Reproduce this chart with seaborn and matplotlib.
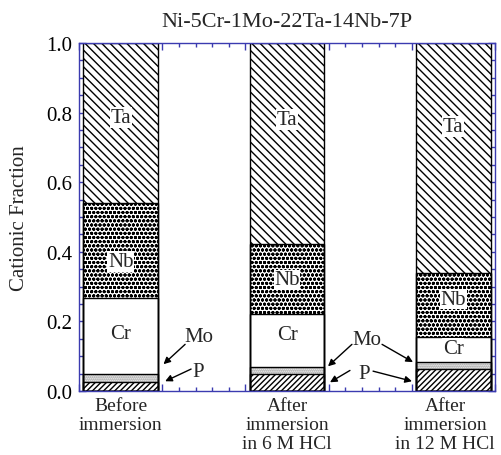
import numpy as np
import pandas as pd
import matplotlib
matplotlib.use("Agg")
import matplotlib.pyplot as plt
from matplotlib.ticker import MultipleLocator, FixedLocator, FormatStrFormatter
from matplotlib.transforms import blended_transform_factory
import seaborn as sns

# Cationic fractions of the passive film, stacked bottom to top
conditions = ["Before\nimmersion", "After\nimmersion\nin 6 M HCl", "After\nimmersion\nin 12 M HCl"]
elements = ["P", "Mo", "Cr", "Nb", "Ta"]
frac_P = [0.025, 0.048, 0.064]
frac_Mo = [0.025, 0.022, 0.019]
frac_Cr = [0.218, 0.150, 0.073]
frac_Nb = [0.271, 0.201, 0.184]
frac_Ta = [0.461, 0.579, 0.660]

# Positions of the in-bar labels
label_y_Ta = [0.786, 0.780, 0.760]
label_y_Nb = [0.372, 0.320, 0.264]
label_y_Cr = [0.166, 0.163, 0.123]

title = "Ni-5Cr-1Mo-22Ta-14Nb-7P"
ylabel = "Cationic Fraction"

sns.set_theme(style="ticks")
plt.rcParams["font.family"] = ["Liberation Serif", "DejaVu Serif"]
plt.rcParams["hatch.linewidth"] = 1.0

axis_blue = "#3b3bb0"
fs = 15

fractions = np.array([frac_P, frac_Mo, frac_Cr, frac_Nb, frac_Ta])
tops = np.cumsum(fractions, axis=0)

styles = {
    "P": dict(hatch="//////", hcolor="black"),
    "Mo": dict(hatch="........", hcolor="#8c8c8c"),
    "Cr": dict(hatch=None, hcolor="black"),
    "Nb": dict(hatch="oooo", hcolor="black"),
    "Ta": dict(hatch="\\\\\\\\", hcolor="black"),
}

fig = plt.figure(figsize=(5.01, 4.56), dpi=100)
ax = fig.add_axes([0.158, 0.1404, 0.830, 0.7631])

bar_width = 0.45

# Draw the cumulative tops from the largest down, so each layer covers the ones above it
for idx in range(len(elements) - 1, -1, -1):
    el = elements[idx]
    df = pd.DataFrame({"condition": conditions, "top": tops[idx]})
    n_before = len(ax.patches)
    sns.barplot(data=df, x="condition", y="top", order=conditions, color="white",
                width=bar_width, errorbar=None, ax=ax, saturation=1)
    for p in ax.patches[n_before:]:
        p.set_facecolor("white")
        p.set_edgecolor(styles[el]["hcolor"])
        p.set_linewidth(0)
        if styles[el]["hatch"]:
            p.set_hatch(styles[el]["hatch"])

# Black outlines of every segment
for idx in range(len(elements)):
    df = pd.DataFrame({"condition": conditions, "top": tops[idx]})
    n_before = len(ax.patches)
    sns.barplot(data=df, x="condition", y="top", order=conditions, color="white",
                width=bar_width, errorbar=None, ax=ax, saturation=1)
    for p in ax.patches[n_before:]:
        p.set_facecolor("none")
        p.set_edgecolor("black")
        p.set_linewidth(1.0)

# Element names inside the bars
for i in range(len(conditions)):
    for name, ys in (("Ta", label_y_Ta), ("Nb", label_y_Nb), ("Cr", label_y_Cr)):
        ax.text(i, ys[i], name, ha="center", va="center", fontsize=fs,
                bbox=dict(facecolor="white", edgecolor="none", pad=0.5))

# Mo and P call-outs
arrow_kw = dict(arrowstyle="-|>", color="black", lw=1.0, mutation_scale=10, shrinkA=0, shrinkB=0)
ax.text(0.470, 0.157, "Mo", ha="center", va="center", fontsize=fs)
ax.text(0.465, 0.057, "P", ha="center", va="center", fontsize=fs)
ax.annotate("", xy=(0.257, 0.077), xytext=(0.387, 0.134), arrowprops=arrow_kw)
ax.annotate("", xy=(0.267, 0.028), xytext=(0.423, 0.063), arrowprops=arrow_kw)

ax.text(1.480, 0.149, "Mo", ha="center", va="center", fontsize=fs)
ax.text(1.462, 0.051, "P", ha="center", va="center", fontsize=fs)
ax.annotate("", xy=(1.246, 0.071), xytext=(1.390, 0.134), arrowprops=arrow_kw)
ax.annotate("", xy=(1.757, 0.083), xytext=(1.571, 0.134), arrowprops=arrow_kw)
ax.annotate("", xy=(1.258, 0.025), xytext=(1.378, 0.059), arrowprops=arrow_kw)
ax.annotate("", xy=(1.751, 0.028), xytext=(1.517, 0.057), arrowprops=arrow_kw)

# Axes limits and ticks
ax.set_xlim(-0.25, 2.25)
ax.set_ylim(0, 1.0)
ax.xaxis.set_major_locator(FixedLocator(np.arange(-0.25, 2.26, 0.5)))
ax.xaxis.set_minor_locator(FixedLocator(np.arange(-0.25, 2.26, 0.1)))
ax.set_xticklabels([])
ax.yaxis.set_major_locator(MultipleLocator(0.2))
ax.yaxis.set_minor_locator(MultipleLocator(0.05))
ax.yaxis.set_major_formatter(FormatStrFormatter("%.1f"))
ax.tick_params(axis="both", which="both", direction="in", color=axis_blue,
               top=True, right=True, width=1.0)
ax.tick_params(axis="both", which="major", length=5)
ax.tick_params(axis="both", which="minor", length=3)
ax.tick_params(axis="y", which="major", labelsize=fs, labelcolor="black", pad=5)
for s in ax.spines.values():
    s.set_color(axis_blue)
    s.set_linewidth(1.0)

ax.set_xlabel("")
ax.set_ylabel(ylabel, fontsize=fs, labelpad=12)
ax.set_title(title, fontsize=16, pad=12)

# Condition names under each bar (the last one sits a little left to stay inside)
trans = blended_transform_factory(ax.transData, ax.transAxes)
label_shift = [0.0, 0.0, -0.05]
for i, cond in enumerate(conditions):
    ax.text(i + label_shift[i], -0.018, cond, transform=trans, ha="center", va="top",
            fontsize=14, linespacing=1.15)

fig.savefig("out.png", dpi=100)
